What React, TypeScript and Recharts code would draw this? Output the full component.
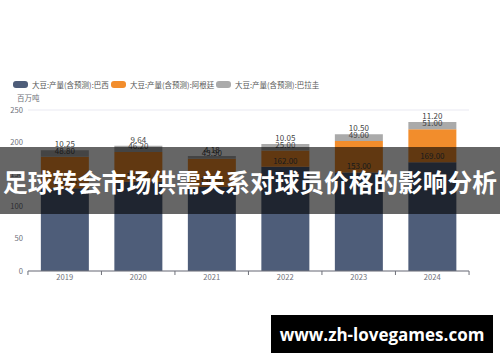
import React from "react";
import { BarChart, Bar, XAxis, YAxis, CartesianGrid, LabelList } from "recharts";

const years = ["2019", "2020", "2021", "2022", "2023", "2024"];
const brazil = [128.5, 138.5, 130.5, 162, 153, 169];
const argentina = [48.8, 46.2, 43.9, 25, 49, 51];
const paraguay = [10.25, 9.64, 4.18, 10.05, 10.5, 11.2];
const yTicks = [0, 50, 100, 150, 200, 250];

const seriesNames = ["大豆:产量(含预测):巴西", "大豆:产量(含预测):阿根廷", "大豆:产量(含预测):巴拉圭"];
const colors = ["#4e5d79", "#f28d2c", "#aaaaaa"];
const unitLabel = "百万吨";
const bannerText = "足球转会市场供需关系对球员价格的影响分析";
const watermark = "www.zh-lovegames.com";

const data = years.map((y, i) => ({
  year: y,
  brazil: brazil[i],
  argentina: argentina[i],
  paraguay: paraguay[i],
}));

const FONT = "'Noto Sans CJK SC', 'Noto Sans', sans-serif";
const HALF_BAND = 36.8;

const XTick = (props: any) => {
  const { x, y, payload, index } = props;
  const axisY = y - 3;
  return (
    <g>
      <line x1={x - HALF_BAND} x2={x - HALF_BAND} y1={axisY} y2={axisY + 4} stroke="#6e7079" />
      {index === years.length - 1 && (
        <line x1={x + HALF_BAND} x2={x + HALF_BAND} y1={axisY} y2={axisY + 4} stroke="#6e7079" />
      )}
      <text x={x} y={y} dy="0.75em" textAnchor="middle" fill="#6e7079" fontSize={7.6} fontFamily={FONT}>
        {payload.value}
      </text>
    </g>
  );
};

const fmt = (v: any) => Number(v).toFixed(2);
const labelStyle = { fill: "#444", fontSize: 8, fontFamily: FONT };

export default function App() {
  return (
    <div style={{ position: "absolute", left: 0, top: 0, width: 500, height: 362, background: "#fff", overflow: "hidden" }}>
      <div style={{ position: "absolute", left: 0, top: 79, display: "flex", alignItems: "center", fontFamily: FONT, fontSize: 7.5, color: "#555" }}>
        {seriesNames.map((n, i) => (
          <div key={n} style={{ position: "absolute", left: [13, 111, 216][i], top: 0, display: "flex", alignItems: "center", whiteSpace: "nowrap" }}>
            <span style={{ display: "inline-block", width: 15, height: 7, borderRadius: 3, background: colors[i], marginRight: 4 }} />
            <span>{n}</span>
          </div>
        ))}
      </div>
      <div style={{ position: "absolute", left: 17, top: 92, fontFamily: FONT, fontSize: 7.5, color: "#6e7079", whiteSpace: "nowrap" }}>{unitLabel}</div>
      <BarChart width={500} height={362} data={data} margin={{ top: 110, right: 0, bottom: 71, left: 0 }} barCategoryGap="17.5%">
        <CartesianGrid vertical={false} stroke="#e9e9f2" />
        <XAxis dataKey="year" height={20} tickLine={false} tickSize={0} tickMargin={3} stroke="#6e7079" tick={<XTick />} interval={0} />
        <YAxis yAxisId="left" width={28} domain={[0, 250]} ticks={yTicks} axisLine={false} tickLine={false} tickSize={3} tick={{ fill: "#6e7079", fontSize: 7.6, fontFamily: FONT }} />
        <YAxis yAxisId="right" orientation="right" width={31} domain={[0, 250]} ticks={yTicks} axisLine={false} tickLine={false} tickSize={3} tick={{ fill: "#6e7079", fontSize: 7.6, fontFamily: FONT }} />
        <Bar yAxisId="left" dataKey="brazil" stackId="a" fill={colors[0]} isAnimationActive={false}>
          <LabelList dataKey="brazil" position="top" offset={3} formatter={fmt} style={labelStyle} />
        </Bar>
        <Bar yAxisId="left" dataKey="argentina" stackId="a" fill={colors[1]} isAnimationActive={false}>
          <LabelList dataKey="argentina" position="top" offset={3} formatter={fmt} style={labelStyle} />
        </Bar>
        <Bar yAxisId="left" dataKey="paraguay" stackId="a" fill={colors[2]} isAnimationActive={false}>
          <LabelList dataKey="paraguay" position="top" offset={3} formatter={fmt} style={labelStyle} />
        </Bar>
      </BarChart>
      <div style={{ position: "absolute", left: 0, top: 147, width: 500, height: 67, background: "rgba(0,0,0,0.6)", display: "flex", alignItems: "center", justifyContent: "center", color: "#fff", fontFamily: FONT, fontWeight: 700, fontSize: 24.7, whiteSpace: "nowrap" }}>
        {bannerText}
      </div>
      <div style={{ position: "absolute", left: 271, top: 315, width: 222, height: 38, background: "#000", display: "flex", alignItems: "center", justifyContent: "center", color: "#fff", fontFamily: "'Open Sans', sans-serif", fontWeight: 700, fontSize: 17, whiteSpace: "nowrap" }}>
        {watermark}
      </div>
    </div>
  );
}
